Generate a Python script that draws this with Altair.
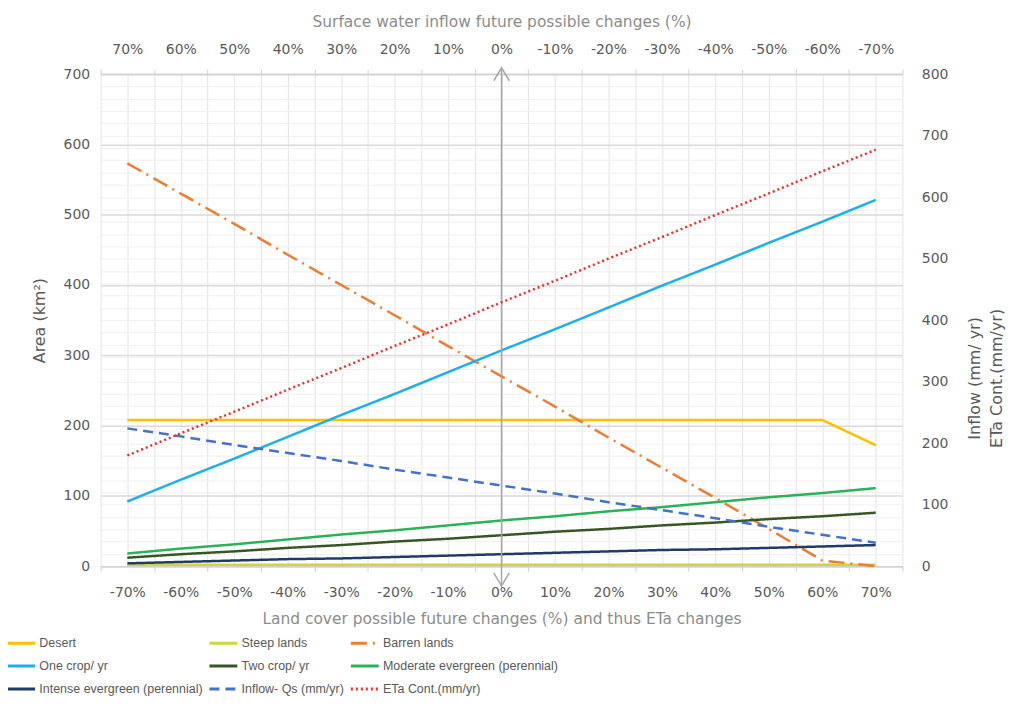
import altair as alt
import pandas as pd

# ---------------- data ----------------
pct = [-70, -60, -50, -40, -30, -20, -10, 0, 10, 20, 30, 40, 50, 60, 70]

desert = [208, 208, 208, 208, 208, 208, 208, 208, 208, 208, 208, 208, 208, 208, 172]
steep_lands = [2, 2, 2, 2, 2, 2, 2, 2, 2, 2, 2, 2, 2, 2, 2]
barren_lands = [573, 530, 487, 443, 400, 357, 313, 270, 227, 183, 140, 97, 53, 8, 0]
one_crop = [92, 123, 153, 184, 215, 245, 276, 307, 337, 368, 399, 429, 460, 490, 521]
two_crop = [12, 17, 21, 26, 30, 35, 39, 44, 49, 53, 58, 62, 67, 71, 76]
moderate_evergreen = [18, 25, 31, 38, 45, 51, 58, 65, 71, 78, 84, 91, 98, 104, 111]
intense_evergreen = [4, 6, 8, 10, 11, 13, 15, 17, 19, 21, 23, 24, 26, 28, 30]

# right axis (mm/yr)
inflow_qs = [224, 211, 197, 184, 171, 157, 144, 131, 118, 104, 91, 78, 64, 51, 38]
eta_cont = [180, 216, 251, 287, 322, 358, 393, 429, 464, 500, 535, 571, 606, 642, 677]

left_names = ["Desert", "Steep lands", "Barren lands", "One crop/ yr", "Two crop/ yr",
              "Moderate evergreen (perennial)", "Intense evergreen (perennial)"]
left_values = [desert, steep_lands, barren_lands, one_crop, two_crop,
               moderate_evergreen, intense_evergreen]
right_names = ["Inflow- Qs (mm/yr)", "ETa Cont.(mm/yr)"]
right_values = [inflow_qs, eta_cont]

all_names = left_names + right_names
colors = ["#FFC000", "#CFD63A", "#ED7D31", "#1FAFE8", "#375623",
          "#2AB25A", "#1F3B66", "#4472C4", "#F22B2B"]
dashes = [[1, 0], [1, 0], [16, 6, 2, 6], [1, 0], [1, 0],
          [1, 0], [1, 0], [10, 6], [2, 3]]

# zero-change marker (arrow) positions on the land-cover axis
arrow_x = [0]
arrow_bottom = [-28]
arrow_top = [709]

# ---------------- tables ----------------
left_df = pd.DataFrame(
    [{"pct": p, "value": v, "series": n} for n, vals in zip(left_names, left_values)
     for p, v in zip(pct, vals)])
right_df = pd.DataFrame(
    [{"pct": p, "value": v, "series": n} for n, vals in zip(right_names, right_values)
     for p, v in zip(pct, vals)])
arrow_df = pd.DataFrame({"pct": arrow_x, "value": arrow_bottom, "value2": arrow_top})
arrow_up_df = pd.DataFrame({"pct": arrow_x, "value": arrow_top})
arrow_down_df = pd.DataFrame({"pct": arrow_x, "value": arrow_bottom})

# ---------------- scales / axes ----------------
xscale = alt.Scale(domain=[-75, 75], nice=False, zero=False)
yl_scale = alt.Scale(domain=[0, 700], nice=False, zero=True)
yr_scale = alt.Scale(domain=[0, 800], nice=False, zero=True)
cscale = alt.Scale(domain=all_names, range=colors)
dscale = alt.Scale(domain=all_names, range=dashes)

x_vals = list(range(-75, 80, 5))
tick_op = {"condition": {"test": "datum.value % 10 != 0", "value": 1}, "value": 0}

bottom_title = "Land cover possible future changes (%) and thus ETa changes"
top_title = "Surface water inflow future possible changes (%)"
left_title = "Area (km²)"
right_title = ["Inflow (mm/ yr)", "ETa Cont.(mm/yr)"]

bottom_axis = alt.Axis(
    values=x_vals, labelExpr="datum.value % 10 == 0 ? datum.value + '%' : ''",
    grid=True, gridColor="#e4e4e4", gridWidth=1,
    tickSize=5, tickColor="#d0d0d0", tickOpacity=tick_op,
    domainColor="#d0d0d0", domainWidth=1.5,
    labelPadding=14, labelOverlap=False, labelFlush=False,
    titleY=53, titleBaseline="middle", titleColor="#8c8c8c", titleFontSize=15.5)

top_axis = alt.Axis(
    orient="top", values=x_vals,
    labelExpr="datum.value % 10 == 0 ? (-datum.value) + '%' : ''",
    grid=False, tickSize=5, tickColor="#d0d0d0", tickOpacity=tick_op,
    domainColor="#d0d0d0", domainWidth=1.5,
    labelPadding=13, labelOverlap=False, labelFlush=False,
    titleY=-53, titleBaseline="middle", titleColor="#8c8c8c", titleFontSize=15.5)

left_axis = alt.Axis(
    values=list(range(0, 701, 100)), grid=True, gridColor="#d9d9d9", gridWidth=1.5,
    domain=False, ticks=False, tickSize=0, labelPadding=11,
    titleColor="#595959", titleFontSize=16, titleX=-61, titleBaseline="middle")

right_axis = alt.Axis(
    orient="right", values=list(range(0, 801, 20)),
    labelExpr="datum.value % 100 == 0 ? datum.label : ''",
    grid=True, gridColor="#efefef", gridWidth=1,
    domain=False, ticks=False, tickSize=0, labelPadding=19,
    titleAngle=270, titleX=72, titleY=305, titleBaseline="middle",
    titleAlign="center", titleLineHeight=22, titleColor="#595959", titleFontSize=16)

legend = alt.Legend(
    orient="none", legendX=-86, legendY=565, columns=3, direction="horizontal",
    title=None, symbolType="M-7,0H7", symbolSize=16, symbolStrokeWidth=3,
    labelFont="Liberation Sans", labelFontSize=12.5, labelColor="#595959",
    labelLimit=400, labelOffset=12, rowPadding=10, columnPadding=0,
    gridAlign="each")


def xb(field):
    return alt.X(field, type="quantitative", scale=xscale, axis=bottom_axis, title=bottom_title)


def yl(field):
    return alt.Y(field, type="quantitative", scale=yl_scale, axis=left_axis, title=left_title)


# ---------------- marks ----------------
left_lines = alt.Chart(left_df).mark_line(strokeWidth=2.5).encode(
    x=xb("pct"),
    y=yl("value"),
    color=alt.Color("series:N", scale=cscale, legend=legend),
    strokeDash=alt.StrokeDash("series:N", scale=dscale, legend=legend),
)

rule = alt.Chart(arrow_df).mark_rule(color="#a6a6a6", strokeWidth=1.5).encode(
    x=xb("pct"),
    y=yl("value"),
    y2="value2:Q",
)
arrow_up = alt.Chart(arrow_up_df).mark_point(
    shape="M-0.6,1L0,0L0.6,1", size=676, filled=False, stroke="#a6a6a6",
    strokeWidth=1.5, opacity=1).encode(x=xb("pct"), y=yl("value"))
arrow_down = alt.Chart(arrow_down_df).mark_point(
    shape="M-0.6,-1L0,0L0.6,-1", size=676, filled=False, stroke="#a6a6a6",
    strokeWidth=1.5, opacity=1).encode(x=xb("pct"), y=yl("value"))

right_lines = alt.Chart(right_df).mark_line(strokeWidth=2.5).encode(
    x=alt.X("pct:Q", scale=xscale, axis=top_axis, title=top_title),
    y=alt.Y("value:Q", scale=yr_scale, axis=right_axis, title=right_title),
    color=alt.Color("series:N", scale=cscale, legend=legend),
    strokeDash=alt.StrokeDash("series:N", scale=dscale, legend=legend),
)

inner = alt.layer(left_lines, rule, arrow_up, arrow_down)

chart = alt.layer(inner, right_lines).resolve_scale(
    y="independent"
).resolve_axis(
    x="independent", y="independent"
).properties(
    width=805, height=494,
    autosize=alt.AutoSizeParams(type="none"),
    padding={"left": 93, "top": 65, "right": 105, "bottom": 134},
).configure_view(
    stroke=None
).configure_axis(
    labelFont="DejaVu Sans", labelFontSize=14, labelColor="#595959",
    titleFont="DejaVu Sans", titleFontWeight="normal",
)

chart.save("out.html", embed_options={"renderer": "svg", "actions": False})
